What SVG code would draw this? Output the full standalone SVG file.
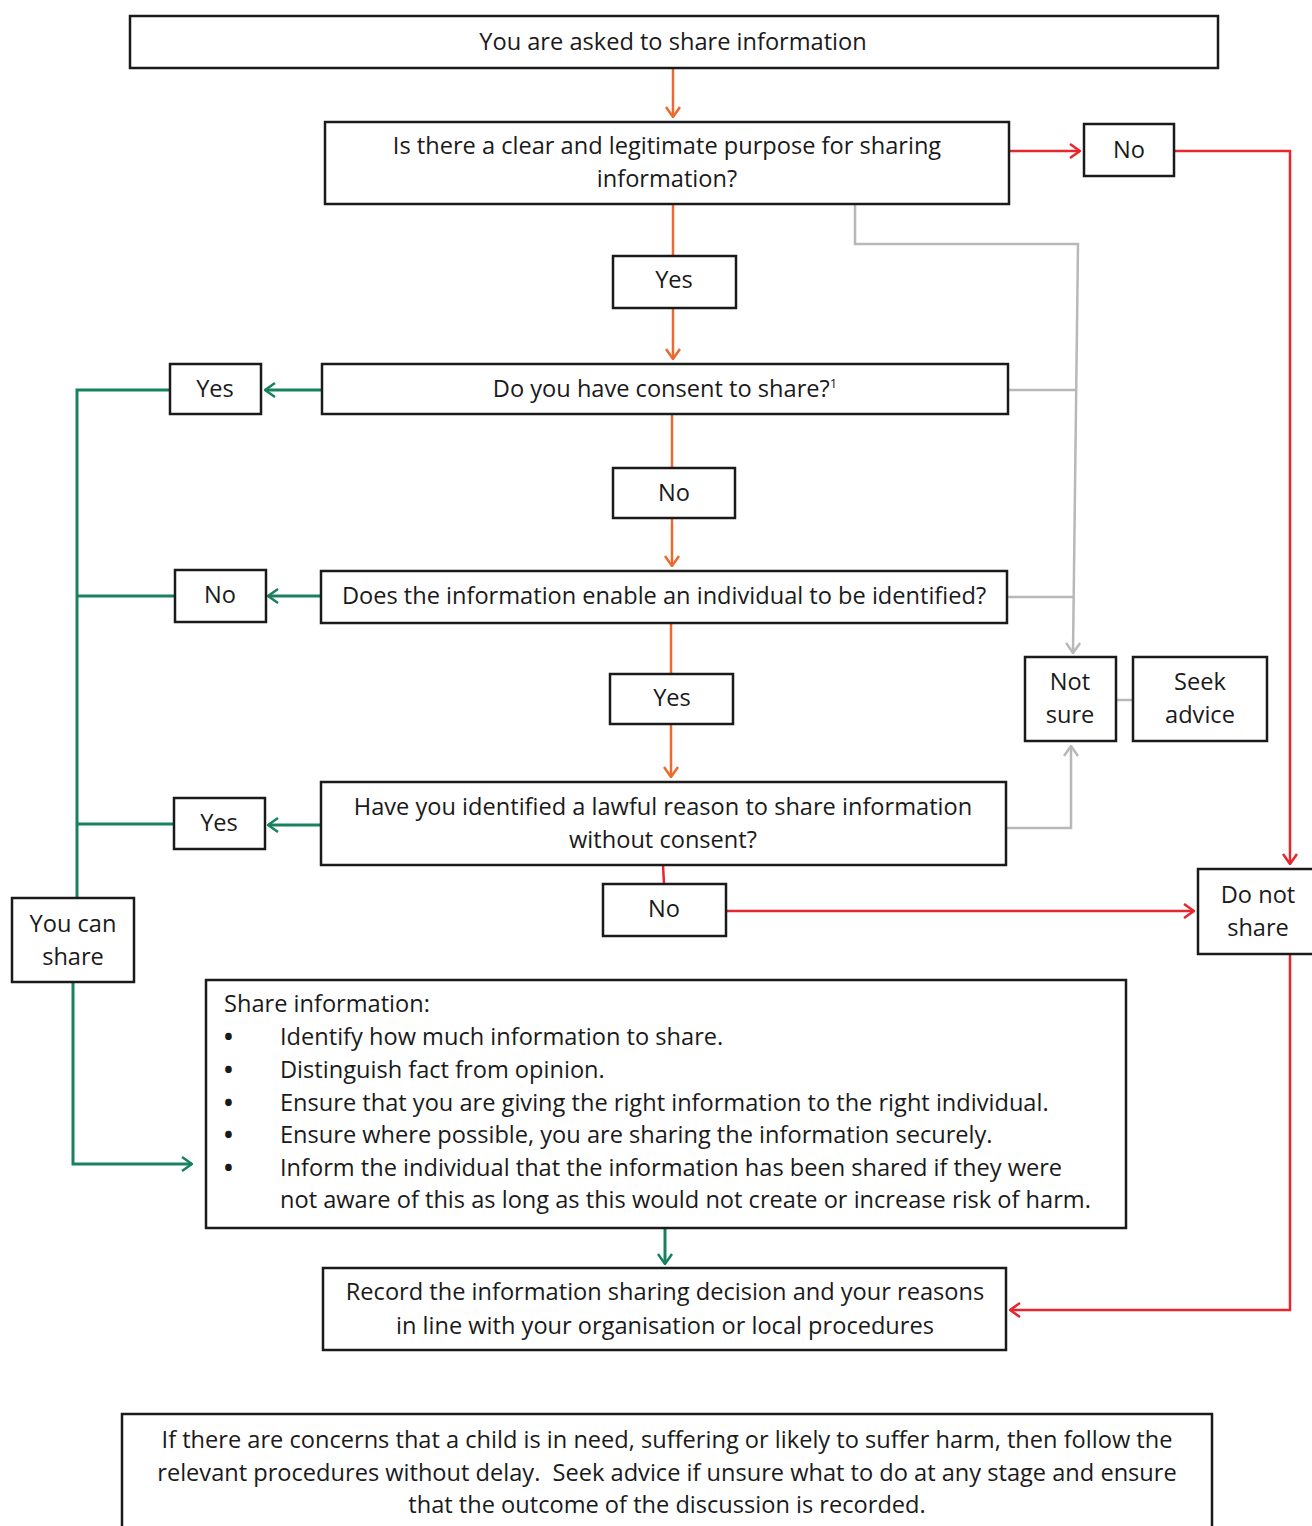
<svg xmlns="http://www.w3.org/2000/svg" width="1312" height="1526" viewBox="0 0 1312 1526">
<style>
.box{fill:#fff;stroke:#1a1a1a;stroke-width:2.5}
text{font-family:"Open Sans","Liberation Sans",Arial,sans-serif;font-size:23.6px;fill:#1a1a1a}
.c{text-anchor:middle}
.b{font-weight:bold}
.or{fill:none;stroke:#ec6a30;stroke-width:2.5}
.rd{fill:none;stroke:#e8262e;stroke-width:2.5}
.gn{fill:none;stroke:#17825c;stroke-width:3}
.gy{fill:none;stroke:#b8b8b8;stroke-width:2.5}
</style>
<defs>
<marker id="ao" viewBox="0 0 12 16" refX="11" refY="8" markerWidth="12" markerHeight="16" markerUnits="userSpaceOnUse" orient="auto"><path d="M1,1 L11,8 L1,15" fill="none" stroke="#ec6a30" stroke-width="2.5"/></marker>
<marker id="ar" viewBox="0 0 12 16" refX="11" refY="8" markerWidth="12" markerHeight="16" markerUnits="userSpaceOnUse" orient="auto"><path d="M1,1 L11,8 L1,15" fill="none" stroke="#e8262e" stroke-width="2.5"/></marker>
<marker id="ag" viewBox="0 0 12 16" refX="11" refY="8" markerWidth="12" markerHeight="16" markerUnits="userSpaceOnUse" orient="auto"><path d="M1,1 L11,8 L1,15" fill="none" stroke="#17825c" stroke-width="2.5"/></marker>
<marker id="ay" viewBox="0 0 12 16" refX="11" refY="8" markerWidth="12" markerHeight="16" markerUnits="userSpaceOnUse" orient="auto"><path d="M1,1 L11,8 L1,15" fill="none" stroke="#b8b8b8" stroke-width="2.5"/></marker>
</defs>
<g id="connectors">
<path class="or" d="M673,68 V117" marker-end="url(#ao)"/>
<path class="or" d="M673,204 V256"/>
<path class="or" d="M673,308 V359" marker-end="url(#ao)"/>
<path class="or" d="M672,414 V468"/>
<path class="or" d="M672,518 V566" marker-end="url(#ao)"/>
<path class="or" d="M671,623 V674"/>
<path class="or" d="M671,724 V777" marker-end="url(#ao)"/>
<path class="rd" d="M1009,151 H1080" marker-end="url(#ar)"/>
<path class="rd" d="M1174,151 H1290 V864" marker-end="url(#ar)"/>
<path class="rd" d="M663,865 L664,884"/>
<path class="rd" d="M726,911 H1194" marker-end="url(#ar)"/>
<path class="rd" d="M1290,954 V1310 H1010" marker-end="url(#ar)"/>
<path class="gy" d="M855,204 V244 H1078 L1073,653" marker-end="url(#ay)"/>
<path class="gy" d="M1008,390 H1076"/>
<path class="gy" d="M1006,597 H1074"/>
<path class="gy" d="M1006,828 H1071 V746" marker-end="url(#ay)"/>
<path class="gy" d="M1116,700 H1133"/>
<path class="gn" d="M322,390 H265" marker-end="url(#ag)"/>
<path class="gn" d="M321,596 H268" marker-end="url(#ag)"/>
<path class="gn" d="M321,825 H268" marker-end="url(#ag)"/>
<path class="gn" d="M170,390 H77 V898"/>
<path class="gn" d="M175,596 H77"/>
<path class="gn" d="M174,824 H77"/>
<path class="gn" d="M73,982 V1164 H192" marker-end="url(#ag)"/>
<path class="gn" d="M665,1228 V1264" marker-end="url(#ag)"/>
</g>
<g id="n-start"><rect class="box" x="130" y="16" width="1088" height="52"/><text class="c" x="673" y="50">You are asked to share information</text></g>
<g id="n-purpose"><rect class="box" x="325" y="122" width="684" height="82"/><text class="c" x="667" y="154">Is there a clear and legitimate purpose for sharing</text><text class="c" x="667" y="187">information?</text></g>
<g id="n-no1"><rect class="box" x="1084" y="124" width="90" height="52"/><text class="c" x="1129" y="158">No</text></g>
<g id="n-yes1"><rect class="box" x="613" y="256" width="123" height="52"/><text class="c" x="674" y="288">Yes</text></g>
<g id="n-consent"><rect class="box" x="322" y="364" width="686" height="50"/><text class="c" x="665" y="397">Do you have consent to share?<tspan font-size="13" dy="-9">1</tspan></text></g>
<g id="n-yes2"><rect class="box" x="170" y="364" width="91" height="50"/><text class="c" x="215" y="397">Yes</text></g>
<g id="n-no2"><rect class="box" x="613" y="468" width="122" height="50"/><text class="c" x="674" y="501">No</text></g>
<g id="n-identified"><rect class="box" x="321" y="571" width="686" height="52"/><text class="c" x="664" y="604">Does the information enable an individual to be identified?</text></g>
<g id="n-no3"><rect class="box" x="175" y="570" width="91" height="52"/><text class="c" x="220" y="603">No</text></g>
<g id="n-yes3"><rect class="box" x="610" y="674" width="123" height="50"/><text class="c" x="672" y="706">Yes</text></g>
<g id="n-lawful"><rect class="box" x="321" y="782" width="685" height="83"/><text class="c" x="663" y="815">Have you identified a lawful reason to share information</text><text class="c" x="663" y="848">without consent?</text></g>
<g id="n-yes4"><rect class="box" x="174" y="798" width="91" height="51"/><text class="c" x="219" y="831">Yes</text></g>
<g id="n-no4"><rect class="box" x="603" y="884" width="123" height="52"/><text class="c" x="664" y="917">No</text></g>
<g id="n-notsure"><rect class="box" x="1025" y="657" width="91" height="84"/><text class="c" x="1070" y="690">Not</text><text class="c" x="1070" y="723">sure</text></g>
<g id="n-seek"><rect class="box" x="1133" y="657" width="134" height="84"/><text class="c" x="1200" y="690">Seek</text><text class="c" x="1200" y="723">advice</text></g>
<g id="n-donot"><rect class="box" x="1198" y="869" width="118" height="85"/><text class="c" x="1258" y="903">Do not</text><text class="c" x="1258" y="936">share</text></g>
<g id="n-youcan"><rect class="box" x="12" y="898" width="122" height="84"/><text class="c" x="73" y="932">You can</text><text class="c" x="73" y="965">share</text></g>
<g id="n-shareinfo"><rect class="box" x="206" y="980" width="920" height="248"/>
<text x="224" y="1012">Share information:</text>
<text class="b" x="224" y="1045">•</text><text x="280" y="1045">Identify how much information to share.</text>
<text class="b" x="224" y="1078">•</text><text x="280" y="1078">Distinguish fact from opinion.</text>
<text class="b" x="224" y="1111">•</text><text x="280" y="1111">Ensure that you are giving the right information to the right individual.</text>
<text class="b" x="224" y="1143">•</text><text x="280" y="1143">Ensure where possible, you are sharing the information securely.</text>
<text class="b" x="224" y="1176">•</text><text x="280" y="1176">Inform the individual that the information has been shared if they were</text>
<text x="280" y="1208">not aware of this as long as this would not create or increase risk of harm.</text>
</g>
<g id="n-record"><rect class="box" x="323" y="1268" width="683" height="82"/><text class="c" x="665" y="1300">Record the information sharing decision and your reasons</text><text class="c" x="665" y="1334">in line with your organisation or local procedures</text></g>
<g id="n-note"><rect class="box" x="122" y="1414" width="1090" height="130"/>
<text class="c" x="667" y="1448">If there are concerns that a child is in need, suffering or likely to suffer harm, then follow the</text>
<text class="c" x="667" y="1481" style="white-space:pre">relevant procedures without delay.  Seek advice if unsure what to do at any stage and ensure</text>
<text class="c" x="667" y="1513">that the outcome of the discussion is recorded.</text>
</g>
</svg>
